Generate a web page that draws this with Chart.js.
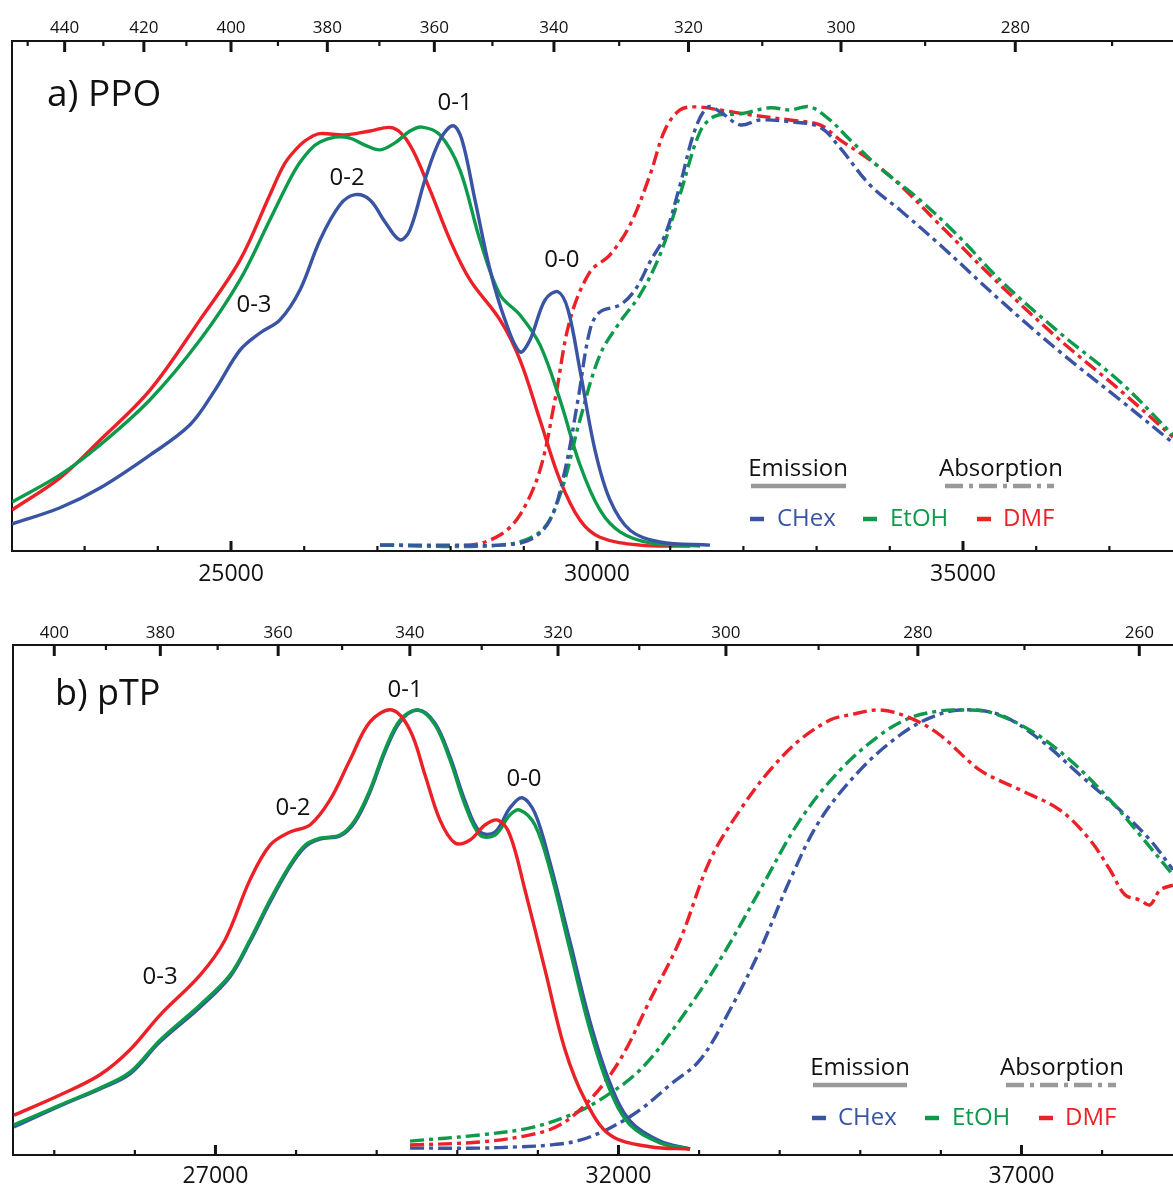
<!DOCTYPE html>
<html><head><meta charset="utf-8">
<script src="https://cdn.jsdelivr.net/npm/chart.js@4/dist/chart.umd.min.js"></script>
<style>
html,body{margin:0;padding:0;background:#fff;}
body{width:1173px;height:1188px;position:relative;overflow:hidden;}
#wa{position:absolute;left:0;top:0;width:1173px;height:600px;}
#wb{position:absolute;left:0;top:600px;width:1173px;height:588px;}
canvas{display:block;}
</style></head><body>
<div id="wa"><canvas id="ca" width="1173" height="600"></canvas></div>
<div id="wb"><canvas id="cb" width="1173" height="588"></canvas></div>
<script>
// ---------- Panel a) PPO ----------
const ppoEmCHexWn = [22008,22664,23210,23893,24440,24781,25123,25396,25669,25942,26216,26489,26694,26899,27104,27308,27445,27650,27855,28032,28155,28333,28538,28743,28948,29084,29289,29467,29604,29767,29972,30177,30451,30860,31543];
const ppoEmCHex   = [0.050,0.087,0.132,0.207,0.276,0.355,0.446,0.485,0.515,0.583,0.697,0.777,0.800,0.788,0.738,0.697,0.720,0.834,0.925,0.957,0.925,0.788,0.629,0.515,0.442,0.469,0.560,0.579,0.538,0.401,0.219,0.105,0.036,0.009,0.002];
const ppoEmEtOHWn = [22008,22664,23210,23893,24576,25123,25532,25874,26079,26216,26421,26625,26830,27035,27240,27445,27609,27855,28128,28401,28675,28948,29221,29494,29767,30040,30314,30724,31407];
const ppoEmEtOH   = [0.100,0.162,0.230,0.333,0.469,0.606,0.743,0.856,0.902,0.920,0.931,0.929,0.913,0.902,0.918,0.945,0.954,0.936,0.856,0.697,0.572,0.526,0.458,0.333,0.185,0.082,0.032,0.007,0.000];
const ppoEmDMFWn  = [22008,22664,23210,23893,24576,25123,25532,25737,25942,26079,26216,26557,26899,27213,27445,27718,27991,28265,28675,28948,29221,29494,29767,30040,30587,31270];
const ppoEmDMF    = [0.082,0.155,0.241,0.355,0.515,0.651,0.800,0.872,0.913,0.930,0.939,0.936,0.945,0.952,0.913,0.811,0.697,0.606,0.515,0.424,0.287,0.150,0.059,0.020,0.002,0.000];
const ppoAbCHexWn = [27035,27991,28675,29084,29358,29563,29740,29904,30040,30314,30519,30724,30929,31134,31339,31516,31680,31953,32226,32636,33046,33319,33729,34139,34685,35505,36324,37144,37868];
const ppoAbCHex   = [0.002,0.002,0.002,0.014,0.059,0.173,0.333,0.492,0.533,0.549,0.583,0.647,0.708,0.822,0.948,1.000,0.989,0.959,0.970,0.966,0.954,0.907,0.822,0.765,0.686,0.560,0.442,0.333,0.235];
const ppoAbEtOHWn = [27035,28675,29221,29494,29767,30040,30314,30587,30860,31134,31407,31612,31953,32363,32636,32909,33183,33456,33866,34412,34959,35505,36324,37144,37868];
const ppoAbEtOH   = [0.002,0.002,0.032,0.116,0.287,0.435,0.510,0.572,0.663,0.800,0.943,0.979,0.984,0.998,0.993,1.000,0.970,0.925,0.861,0.788,0.702,0.606,0.485,0.374,0.253];
const ppoAbDMFWn  = [27035,28265,28675,28948,29221,29426,29631,29904,30177,30451,30724,30929,31134,31339,31680,32090,32636,33046,33319,33729,34139,34685,35505,36324,37144,37868];
const ppoAbDMF    = [0.002,0.002,0.025,0.071,0.173,0.333,0.515,0.624,0.663,0.731,0.845,0.948,0.993,1.000,0.993,0.982,0.970,0.959,0.925,0.879,0.822,0.731,0.595,0.469,0.355,0.248];
const ppoBottomMajor = [25000,30000,35000];
const ppoBottomMinor = [23000,24000,26000,27000,28000,29000,31000,32000,33000,34000,36000,37000];
const ppoTopMajorNm = [440,420,400,380,360,340,320,300,280];
const ppoTopMinorNm = [450,430,410,390,370,350,330,310,290,270];
const ppoLabels = [
  {t:'a) PPO', x:22486, y:1.027, size:37, align:'left'},
  {t:'0-1', x:28060, y:1.009, size:24},
  {t:'0-2', x:26585, y:0.838, size:24},
  {t:'0-3', x:25314, y:0.549, size:24},
  {t:'0-0', x:29521, y:0.651, size:24}
];

// ---------- Panel b) pTP ----------
const ptpEmCHexWn = [24500,25071,25567,25940,26312,26809,27180,27428,27677,27925,28111,28297,28545,28731,28917,29103,29290,29513,29724,29910,30096,30282,30468,30654,30803,30964,31151,31399,31647,31895,32143,32515,32888];
const ptpEmCHex   = [0.050,0.098,0.137,0.171,0.244,0.323,0.392,0.472,0.562,0.643,0.688,0.706,0.713,0.745,0.813,0.904,0.973,1.000,0.970,0.893,0.793,0.722,0.722,0.777,0.800,0.765,0.652,0.472,0.290,0.150,0.064,0.018,0.000];
const ptpEmEtOHWn = [24500,25071,25567,25940,26312,26809,27180,27428,27677,27925,28111,28297,28545,28731,28917,29103,29290,29513,29724,29910,30096,30282,30468,30654,30778,30964,31151,31399,31647,31895,32143,32515,32888];
const ptpEmEtOH   = [0.055,0.100,0.139,0.175,0.248,0.328,0.396,0.476,0.567,0.647,0.692,0.708,0.715,0.749,0.818,0.909,0.977,1.000,0.966,0.886,0.784,0.715,0.715,0.761,0.772,0.738,0.636,0.453,0.271,0.134,0.055,0.014,0.000];
const ptpEmDMFWn  = [24500,25071,25567,25940,26312,26809,27118,27428,27677,27925,28173,28421,28669,28917,29190,29414,29600,29786,29972,30158,30344,30505,30654,30840,31089,31337,31585,31895,32391,32888];
const ptpEmDMF    = [0.077,0.123,0.169,0.226,0.305,0.396,0.476,0.613,0.692,0.722,0.738,0.795,0.886,0.973,1.000,0.954,0.852,0.749,0.697,0.704,0.738,0.749,0.715,0.590,0.408,0.226,0.112,0.032,0.005,0.000];
const ptpAbCHexWn = [29414,30282,30778,31151,31523,31895,32267,32639,33012,33384,33756,34128,34500,34997,35493,35865,36237,36734,37230,37726,38222,38595,38880];
const ptpAbCHex   = [0.002,0.002,0.005,0.009,0.020,0.048,0.089,0.146,0.203,0.317,0.453,0.613,0.749,0.863,0.943,0.982,1.000,0.989,0.932,0.852,0.772,0.704,0.636];
const ptpAbEtOHWn = [29414,30282,30902,31399,31771,32267,32763,33260,33756,34252,34749,35245,35617,35989,36237,36609,37106,37602,38098,38471,38880];
const ptpAbEtOH   = [0.018,0.032,0.048,0.077,0.112,0.180,0.294,0.431,0.590,0.749,0.863,0.943,0.982,0.998,1.000,0.995,0.954,0.886,0.795,0.715,0.624];
const ptpAbDMFWn  = [29414,30282,30902,31275,31647,32019,32391,32763,33136,33508,33880,34252,34624,34873,35245,35617,35989,36485,36982,37478,37850,38098,38284,38471,38595,38719,38880];
const ptpAbDMF    = [0.009,0.016,0.032,0.055,0.112,0.203,0.339,0.476,0.658,0.772,0.863,0.932,0.977,0.989,1.000,0.982,0.943,0.863,0.818,0.772,0.704,0.636,0.579,0.567,0.556,0.590,0.601];
const ptpBottomMajor = [27000,32000,37000];
const ptpBottomMinor = [25000,26000,28000,29000,30000,31000,33000,34000,35000,36000,38000];
const ptpTopMajorNm = [400,380,360,340,320,300,280,260];
const ptpTopMinorNm = [390,370,350,330,310,290,270];
const ptpLabels = [
  {t:'b) pTP', x:25009, y:1.034, size:36, align:'left'},
  {t:'0-1', x:29352, y:1.046, size:24},
  {t:'0-2', x:27962, y:0.777, size:24},
  {t:'0-3', x:26312, y:0.392, size:24},
  {t:'0-0', x:30828, y:0.843, size:24}
];

const solvents = ['CHex','EtOH','DMF'];
const COLORS = {CHex:'#3a54a4', EtOH:'#0d9b4b', DMF:'#ec2128'};
const FONT = "'Open Sans','Noto Sans',sans-serif";
const INK = '#141414';
const DASHDOT = [14,5,4,5];

function pts(xs, ys){ return xs.map((x,i)=>({x:x, y:ys[i]})); }
function ds(label, xs, ys, color, dashed){
  return {label, data: pts(xs, ys), borderColor: color, backgroundColor: color,
    borderWidth: 3.4, pointRadius: 0, fill: false, tension: 0.35,
    borderDash: dashed ? DASHDOT : [], borderCapStyle: 'butt', borderJoinStyle: 'round'};
}

function makePanel(canvasId, cfg){
  const tickPlugin = {
    id: 'inwardTicks',
    afterDraw(chart){
      const ctx = chart.ctx, ca = chart.chartArea, xs = chart.scales.x, ys = chart.scales.y;
      ctx.save();
      ctx.strokeStyle = INK; ctx.lineCap = 'butt';
      const tick = (px, yEdge, len, w, dir) => {
        ctx.lineWidth = w; ctx.beginPath();
        ctx.moveTo(px, yEdge); ctx.lineTo(px, yEdge + dir*len); ctx.stroke();
      };
      cfg.bottomMajor.forEach(v => tick(xs.getPixelForValue(v), ca.bottom, 10, 3, -1));
      cfg.bottomMinor.forEach(v => tick(xs.getPixelForValue(v), ca.bottom, 5, 2.2, -1));
      cfg.topMajorNm.forEach(nm => tick(xs.getPixelForValue(1e7/nm), ca.top, 11, 3, 1));
      cfg.topMinorNm.forEach(nm => tick(xs.getPixelForValue(1e7/nm), ca.top, 5, 2.2, 1));
      // peak labels
      ctx.fillStyle = '#111'; ctx.textBaseline = 'middle';
      cfg.labels.forEach(l => {
        ctx.font = l.size + 'px ' + FONT;
        ctx.textAlign = l.align || 'center';
        ctx.fillText(l.t, xs.getPixelForValue(l.x), ys.getPixelForValue(l.y));
      });
      // legend
      const L = cfg.legend;
      ctx.font = '24px ' + FONT; ctx.textAlign = 'center'; ctx.fillStyle = '#111';
      ctx.fillText('Emission', L.emX, L.headY);
      ctx.fillText('Absorption', L.abX, L.headY);
      ctx.strokeStyle = '#999'; ctx.lineWidth = 4.5;
      ctx.beginPath(); ctx.moveTo(L.emL, L.lineY); ctx.lineTo(L.emR, L.lineY); ctx.stroke();
      ctx.setLineDash([18,6,4,6]);
      ctx.beginPath(); ctx.moveTo(L.abL, L.lineY); ctx.lineTo(L.abR, L.lineY); ctx.stroke();
      ctx.setLineDash([]);
      ctx.textAlign = 'left';
      solvents.forEach((s, i) => {
        ctx.strokeStyle = COLORS[s]; ctx.lineWidth = 4.5;
        ctx.beginPath(); ctx.moveTo(L.markX[i], L.rowY); ctx.lineTo(L.markX[i] + 14, L.rowY); ctx.stroke();
        ctx.fillStyle = COLORS[s];
        ctx.fillText(s, L.textX[i], L.rowY);
      });
      ctx.restore();
    }
  };
  return new Chart(document.getElementById(canvasId), {
    type: 'line',
    data: { datasets: cfg.datasets },
    options: {
      responsive: false, animation: false, devicePixelRatio: 1,
      layout: { padding: 0 },
      plugins: { legend: {display:false}, tooltip: {enabled:false} },
      scales: {
        x: { type:'linear', position:'bottom', min: cfg.xMin, max: cfg.xMax,
          afterBuildTicks: s => { s.ticks = cfg.bottomMajor.map(v => ({value:v})); },
          afterFit: s => { s.height = cfg.bottomH; },
          grid: {display:false, drawTicks:false},
          border: {display:true, color:INK, width:2},
          ticks: {autoSkip:false, maxRotation:0, padding: cfg.bottomPad, color:'#111',
            font:{family:FONT, size:23}, callback: v => String(v)} },
        xt: { type:'linear', position:'top', min: cfg.xMin, max: cfg.xMax,
          afterBuildTicks: s => { s.ticks = cfg.topMajorNm.map(nm => ({value:1e7/nm})); },
          afterFit: s => { s.height = cfg.topH; },
          grid: {display:false, drawTicks:false},
          border: {display:true, color:INK, width:2},
          ticks: {autoSkip:false, maxRotation:0, padding: cfg.topPad, color:'#111',
            font:{family:FONT, size:17}, callback: v => String(Math.round(1e7/v))} },
        y: { type:'linear', min: cfg.yMin, max: cfg.yMax,
          afterFit: s => { s.width = cfg.leftW; },
          grid: {display:false, drawTicks:false},
          border: {display:true, color:INK, width:2},
          ticks: {display:false} }
      }
    },
    plugins: [tickPlugin]
  });
}

makePanel('ca', {
  xMin: 22008, xMax: 37869, yMin: -0.0114, yMax: 1.150,
  topH: 41, bottomH: 49, leftW: 12, bottomPad: 10, topPad: 3,
  bottomMajor: ppoBottomMajor, bottomMinor: ppoBottomMinor,
  topMajorNm: ppoTopMajorNm, topMinorNm: ppoTopMinorNm, labels: ppoLabels,
  legend: {emX:798, abX:1001, headY:469, lineY:486, emL:751, emR:846, abL:945, abR:1054,
           rowY:519, markX:[750,863,977], textX:[777,890,1003]},
  datasets: [
    ds('CHex emission', ppoEmCHexWn, ppoEmCHex, COLORS.CHex, false),
    ds('CHex absorption', ppoAbCHexWn, ppoAbCHex, COLORS.CHex, true),
    ds('EtOH emission', ppoEmEtOHWn, ppoEmEtOH, COLORS.EtOH, false),
    ds('EtOH absorption', ppoAbEtOHWn, ppoAbEtOH, COLORS.EtOH, true),
    ds('DMF emission', ppoEmDMFWn, ppoEmDMF, COLORS.DMF, false),
    ds('DMF absorption', ppoAbDMFWn, ppoAbDMF, COLORS.DMF, true)
  ]
});

makePanel('cb', {
  xMin: 24488, xMax: 38880, yMin: -0.0137, yMax: 1.148,
  topH: 45, bottomH: 33, leftW: 13, bottomPad: 8, topPad: 2,
  bottomMajor: ptpBottomMajor, bottomMinor: ptpBottomMinor,
  topMajorNm: ptpTopMajorNm, topMinorNm: ptpTopMinorNm, labels: ptpLabels,
  legend: {emX:860, abX:1062, headY:468, lineY:485, emL:813, emR:907, abL:1006, abR:1116,
           rowY:518, markX:[812,925,1039], textX:[838,952,1065]},
  datasets: [
    ds('DMF emission', ptpEmDMFWn, ptpEmDMF, COLORS.DMF, false),
    ds('EtOH emission', ptpEmEtOHWn, ptpEmEtOH, COLORS.EtOH, false),
    ds('CHex emission', ptpEmCHexWn, ptpEmCHex, COLORS.CHex, false),
    ds('DMF absorption', ptpAbDMFWn, ptpAbDMF, COLORS.DMF, true),
    ds('EtOH absorption', ptpAbEtOHWn, ptpAbEtOH, COLORS.EtOH, true),
    ds('CHex absorption', ptpAbCHexWn, ptpAbCHex, COLORS.CHex, true)
  ]
});
</script>
</body></html>
